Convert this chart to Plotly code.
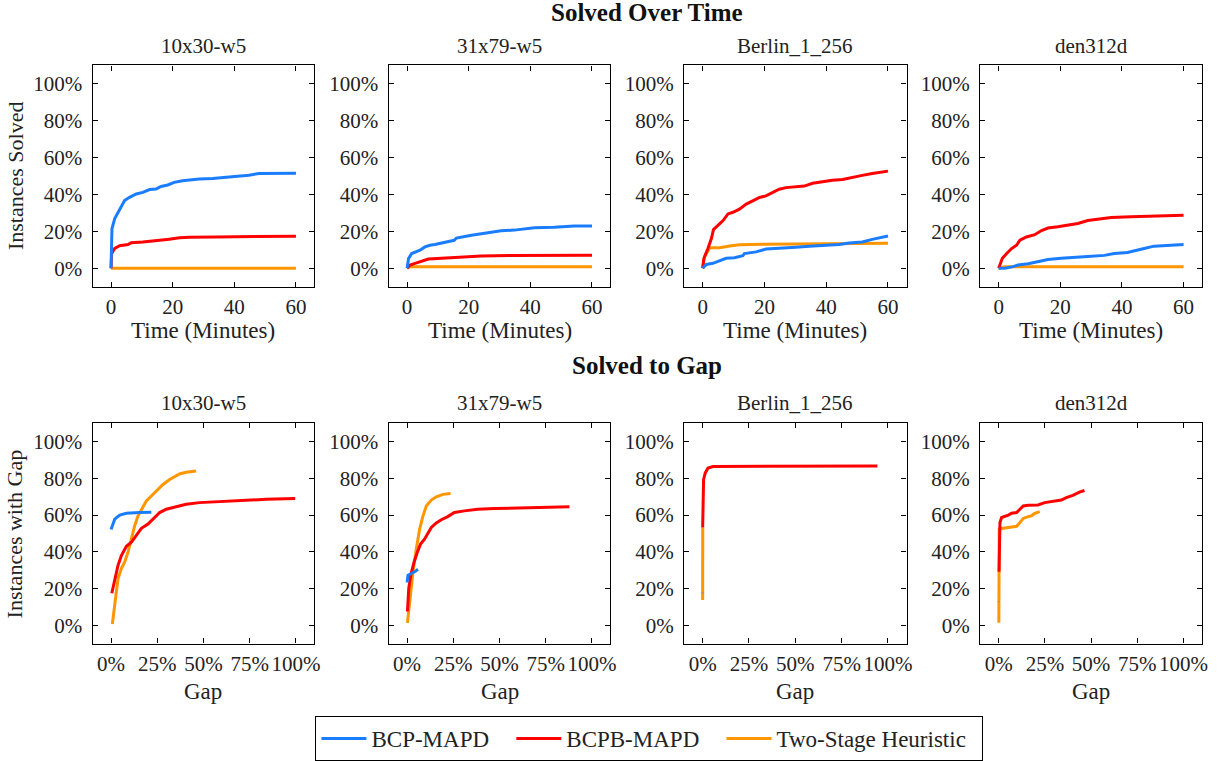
import plotly.graph_objects as go

# ---------------- data ----------------
panel_names = ["10x30-w5", "31x79-w5", "Berlin_1_256", "den312d"]
series_names = ["BCP-MAPD", "BCPB-MAPD", "Two-Stage Heuristic"]
pct_ticks = [0, 20, 40, 60, 80, 100]
pct_labels = ["0%", "20%", "40%", "60%", "80%", "100%"]
time_ticks = [0, 20, 40, 60]
time_labels = ["0", "20", "40", "60"]
gap_ticks = [0, 25, 50, 75, 100]
gap_labels = ["0%", "25%", "50%", "75%", "100%"]

# Solved over time (minutes, % solved)
t_10x30_bcp = [0, 0.1, 0.3, 1.2, 2.8, 4.4, 6, 8.2, 10.3, 12.5, 14.6, 16.2, 18.4, 20.5, 23.2, 25.4, 28.6, 32.9, 37.2, 40.4, 44.7, 48, 52.3, 60]
s_10x30_bcp = [0, 15, 21.5, 27, 32, 36.7, 38.5, 40.3, 41.2, 42.7, 43, 44.4, 45.2, 46.6, 47.5, 48, 48.4, 48.7, 49.3, 49.8, 50.5, 51.4, 51.6, 51.6]
t_10x30_bcpb = [0, 0.2, 1.2, 2.8, 5.5, 6.5, 10.3, 14.6, 18.9, 22.2, 25.4, 34, 44.7, 60]
s_10x30_bcpb = [0, 8.1, 10.8, 12.2, 12.9, 13.8, 14.3, 14.9, 15.8, 16.5, 16.8, 17, 17.2, 17.4]
t_10x30_two = [0, 60]
s_10x30_two = [0, 0]

t_31x79_bcp = [0, 0.5, 1.5, 2.6, 4.2, 5.8, 7.4, 9, 11.7, 13.9, 15.3, 16, 18.7, 20.9, 24.1, 27.3, 30.5, 34.8, 38, 41.3, 47.7, 54.2, 60]
s_31x79_bcp = [0, 5.4, 8, 8.9, 9.8, 11.6, 12.5, 12.9, 13.8, 14.6, 15.2, 16.4, 17, 17.9, 18.75, 19.6, 20.4, 20.7, 21.4, 22, 22.3, 22.9, 23]
t_31x79_bcpb = [0, 1, 2.6, 4.7, 6.9, 11.2, 17.6, 24.1, 33.8, 44.5, 60]
s_31x79_bcpb = [0, 1.8, 2.7, 3.9, 5, 5.5, 6.1, 6.6, 7, 7.1, 7.1]
t_31x79_two = [0, 1, 60]
s_31x79_two = [0, 0.9, 0.9]

t_berlin_bcp = [0, 1.2, 3.3, 5.5, 7.6, 10.3, 13, 13.5, 17.3, 20.5, 24.8, 30.2, 34.5, 38.8, 44.2, 47.4, 51.7, 54.9, 58.2, 60]
s_berlin_bcp = [0, 2.1, 2.7, 4.1, 5.4, 5.7, 6.8, 8, 8.9, 10.4, 10.7, 11.4, 12, 12.5, 12.9, 13.75, 14.3, 15.7, 17, 17.5]
t_berlin_bcpb = [0, 0.4, 1.7, 2.8, 3.5, 4.9, 6.6, 8.2, 9.8, 11.9, 14.1, 16.2, 18.4, 20.5, 22.7, 24.8, 27, 30.2, 32.9, 35.6, 38.8, 42, 45.3, 48.5, 51.7, 54.9, 58.2, 60]
s_berlin_bcpb = [0, 5.4, 10.7, 16, 21, 23.2, 25.9, 29.5, 30.4, 32.1, 34.8, 36.6, 38.4, 39.3, 41.1, 42.9, 43.75, 44.1, 44.6, 46.1, 47, 47.7, 48.2, 49.1, 50.4, 51.4, 52.1, 52.7]
t_berlin_two = [0, 0.6, 2.3, 5.5, 8.7, 11.9, 19.5, 30.2, 40.9, 60]
s_berlin_two = [0, 6.25, 11.1, 11.1, 12.1, 12.7, 13, 13.2, 13.6, 13.6]

t_den_bcp = [0, 2, 4.7, 6.3, 9.6, 12.8, 16, 20.3, 24.6, 28.9, 34.3, 37.5, 41.8, 44, 47.2, 50.4, 54.7, 60]
s_den_bcp = [0, 0, 0.9, 1.8, 2.5, 3.6, 4.8, 5.4, 6.1, 6.4, 7, 8, 8.6, 9.3, 10.7, 12, 12.5, 12.9]
t_den_bcpb = [0, 1.2, 2.6, 4.2, 5.8, 6.9, 9, 11.7, 13.9, 16, 19.2, 22.5, 25.7, 28.9, 33.2, 36.5, 42.9, 50.4, 60]
s_den_bcpb = [0, 5.4, 8, 10.7, 12.5, 15.2, 17, 18.2, 20.5, 21.8, 22.5, 23.6, 24.3, 25.9, 26.8, 27.5, 27.9, 28.2, 28.75]
t_den_two = [0, 2, 60]
s_den_two = [0, 0.9, 0.9]

# Solved to gap (% gap, % instances)
g_10x30_bcp = [0, 2, 4.7, 8.3, 15.5, 21.8]
p_10x30_bcp = [52.1, 57.8, 60, 61, 61.4, 61.6]
g_10x30_bcpb = [0.4, 2, 3.8, 5.6, 8.3, 11, 13.7, 16.4, 20, 23.6, 26.3, 29.9, 35.3, 40.6, 47.8, 56.8, 65.8, 74.8, 83.8, 99.6]
p_10x30_bcpb = [17.4, 25.5, 32.7, 38, 43, 45.2, 48.8, 52.8, 55.1, 58.7, 61.4, 63.2, 64.6, 65.9, 66.8, 67.3, 67.7, 68.2, 68.6, 69.1]
g_10x30_two = [0.7, 2, 3.8, 5.6, 7.4, 9.2, 11, 12.8, 14.6, 16.4, 19.1, 21.8, 24.5, 28.1, 31.7, 37, 40.6, 46]
p_10x30_two = [0.7, 11.1, 25.5, 30.9, 34.5, 39.9, 47, 54.2, 59.6, 63.2, 67.7, 70.4, 73.1, 76.7, 79.4, 82.4, 83.3, 84]

g_31x79_bcp = [0, 0.5, 2.3, 4.1, 5.9]
p_31x79_bcp = [23.3, 27.3, 28.2, 29.1, 30.5]
g_31x79_bcpb = [0.2, 0.9, 2, 3.8, 5.6, 7.3, 9.5, 11.3, 13.1, 15.8, 18.5, 22, 25.6, 31, 38.2, 47.1, 65, 87.8]
p_31x79_bcpb = [7.5, 20.1, 27.3, 34.5, 39.9, 44.3, 47, 50.6, 53.3, 55.7, 57.5, 59.2, 61.4, 62.3, 63.2, 63.6, 64.1, 64.5]
g_31x79_two = [0.2, 1.4, 3.2, 5, 6.8, 8.6, 10.4, 13.1, 15.8, 19.4, 23.5]
p_31x79_two = [1.3, 12.9, 29.1, 41.7, 52.4, 59.6, 65, 68.2, 70, 71.3, 71.8]

g_berlin_bcp = [0, 0.05]
p_berlin_bcp = [17.5, 17.7]
g_berlin_bcpb = [0, 0.2, 0.5, 1.4, 2.9, 5.6, 25, 60, 94.3]
p_berlin_bcpb = [53.3, 74, 79.4, 83, 85.6, 86.5, 86.5, 86.7, 86.7]
g_berlin_two = [0, 0.05]
p_berlin_two = [13.8, 53.3]

g_den_bcp = [0, 0.05]
p_den_bcp = [12.7, 12.9]
g_den_bcpb = [0.2, 0.4, 0.7, 1.6, 3.4, 5.2, 7, 9.7, 11.5, 13.3, 16, 21.3, 24.9, 28.5, 33.9, 36.6, 40.1, 43.7, 46.4]
p_den_bcpb = [29.1, 45.2, 56, 58.7, 59.2, 60, 61, 61.4, 63.2, 65, 65.4, 65.5, 66.8, 67.5, 68.2, 69.5, 70.7, 72.5, 73.4]
g_den_two = [0.1, 0.3, 2.5, 7, 9.7, 11.5, 13.3, 16, 17.7, 19.5, 22.2]
p_den_two = [1.3, 52.4, 52.8, 53.3, 53.9, 56, 58.2, 59.2, 59.6, 60.9, 61.9]

time_data = [
    [(t_10x30_bcp, s_10x30_bcp), (t_10x30_bcpb, s_10x30_bcpb), (t_10x30_two, s_10x30_two)],
    [(t_31x79_bcp, s_31x79_bcp), (t_31x79_bcpb, s_31x79_bcpb), (t_31x79_two, s_31x79_two)],
    [(t_berlin_bcp, s_berlin_bcp), (t_berlin_bcpb, s_berlin_bcpb), (t_berlin_two, s_berlin_two)],
    [(t_den_bcp, s_den_bcp), (t_den_bcpb, s_den_bcpb), (t_den_two, s_den_two)],
]
gap_data = [
    [(g_10x30_bcp, p_10x30_bcp), (g_10x30_bcpb, p_10x30_bcpb), (g_10x30_two, p_10x30_two)],
    [(g_31x79_bcp, p_31x79_bcp), (g_31x79_bcpb, p_31x79_bcpb), (g_31x79_two, p_31x79_two)],
    [(g_berlin_bcp, p_berlin_bcp), (g_berlin_bcpb, p_berlin_bcpb), (g_berlin_two, p_berlin_two)],
    [(g_den_bcp, p_den_bcp), (g_den_bcpb, p_den_bcpb), (g_den_two, p_den_two)],
]

# ---------------- style ----------------
W, H = 1224, 761
FONT = "Liberation Serif"
TXT = "#222"
colors = ["#1a7dff", "#ff0000", "#ff9600"]
col_px = [(93, 316), (390.5, 613.5), (687.5, 911), (985, 1208)]
row_px = [(66, 289), (426.7, 648.7)]
NBSP = "\u00a0"
legend_pad = [NBSP * 3, NBSP * 3, NBSP * 2]

def px_x(v):
    return v / W

def px_y(v):
    return 1 - v / H

fig = go.Figure()
layout = {}
annotations = []

axis_common = dict(
    showline=True, linecolor="black", linewidth=1.3, mirror="ticks",
    ticks="inside", ticklen=5, tickwidth=1, tickcolor="black",
    showgrid=False, zeroline=False, tickmode="array",
    tickfont=dict(family=FONT, size=21, color=TXT),
)

idx = 0
for r in range(2):
    for c in range(4):
        idx += 1
        xa = "xaxis" if idx == 1 else f"xaxis{idx}"
        ya = "yaxis" if idx == 1 else f"yaxis{idx}"
        xref = "x" if idx == 1 else f"x{idx}"
        yref = "y" if idx == 1 else f"y{idx}"
        x0, x1 = col_px[c]
        y0, y1 = row_px[r]
        if r == 0:
            xcfg = dict(range=[-6, 66], tickvals=time_ticks, ticktext=time_labels)
        else:
            xcfg = dict(range=[-10, 110], tickvals=gap_ticks, ticktext=gap_labels)
        layout[xa] = dict(domain=[px_x(x0), px_x(x1)], anchor=yref, ticklabelstandoff=1, **xcfg, **axis_common)
        layout[ya] = dict(domain=[px_y(y1), px_y(y0)], anchor=xref, range=[-10, 110],
                          tickvals=pct_ticks, ticktext=pct_labels, ticklabelstandoff=5, **axis_common)
        data = time_data[c] if r == 0 else gap_data[c]
        # draw orange, red, blue (blue on top); legend order by rank
        for s in [2, 1, 0]:
            xs, ys = data[s]
            fig.add_trace(go.Scatter(
                x=xs, y=ys, mode="lines", name=series_names[s] + legend_pad[s],
                line=dict(color=colors[s], width=3),
                xaxis=xref, yaxis=yref, showlegend=(idx == 1), legendrank=s + 1,
            ))
        # subplot title
        annotations.append(dict(
            text=panel_names[c], x=px_x((x0 + x1) / 2), y=px_y(y0 - 20),
            xref="paper", yref="paper", showarrow=False, xanchor="center", yanchor="middle",
            font=dict(family=FONT, size=21, color=TXT)))
        # x-axis title
        annotations.append(dict(
            text="Time (Minutes)" if r == 0 else "Gap", x=px_x((x0 + x1) / 2),
            y=px_y(y1 + (44 if r == 0 else 48)),
            xref="paper", yref="paper", showarrow=False, xanchor="center", yanchor="middle",
            font=dict(family=FONT, size=23, color=TXT)))
    # y title for the row
    y0, y1 = row_px[r]
    annotations.append(dict(
        text="Instances Solved" if r == 0 else "Instances with Gap",
        x=px_x(15), y=px_y((y0 + y1) / 2), xref="paper", yref="paper", showarrow=False,
        textangle=-90, xanchor="center", yanchor="middle",
        font=dict(family=FONT, size=22, color=TXT)))

annotations.append(dict(text="<b>Solved Over Time</b>", x=px_x(650.5), y=px_y(13),
                        xref="paper", yref="paper", showarrow=False, xanchor="center", yanchor="middle",
                        font=dict(family=FONT, size=25, color="#111")))
annotations.append(dict(text="<b>Solved to Gap</b>", x=px_x(650.5), y=px_y(368),
                        xref="paper", yref="paper", showarrow=False, xanchor="center", yanchor="middle",
                        font=dict(family=FONT, size=25, color="#111")))

fig.update_layout(
    width=W, height=H, margin=dict(l=0, r=0, t=0, b=0),
    paper_bgcolor="white", plot_bgcolor="white",
    annotations=annotations,
    legend=dict(orientation="h", x=px_x(317), y=px_y(722), xanchor="left", yanchor="top",
                bordercolor="black", borderwidth=1, bgcolor="white",
                font=dict(family=FONT, size=23, color=TXT), itemwidth=45,
                traceorder="normal"),
    **layout,
)

fig.write_html("out.html", config={"displayModeBar": False},
               post_script="document.body.style.margin='0';document.body.style.overflow='hidden';")
